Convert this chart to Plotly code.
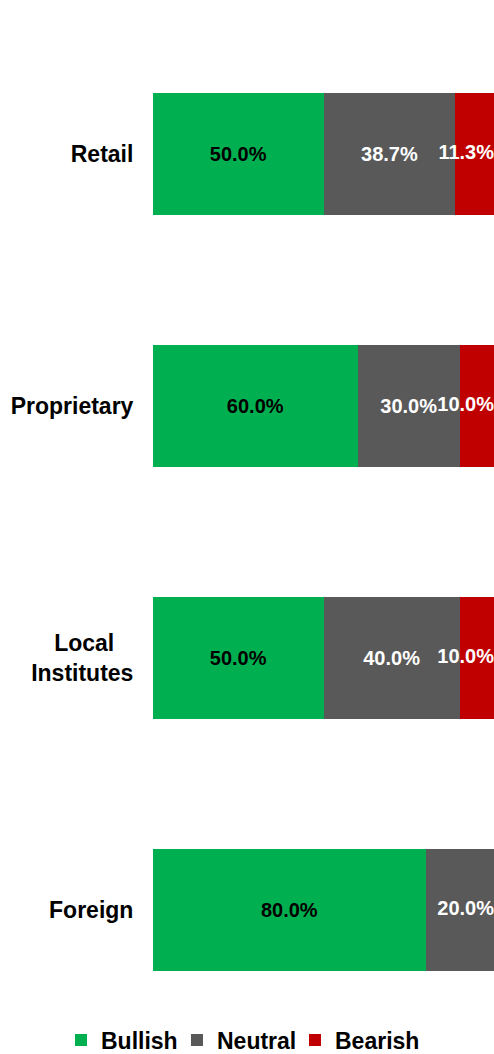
import plotly.graph_objects as go

categories = ["Retail", "Proprietary", "Local Institutes", "Foreign"]
tick_labels = ["Retail", "Proprietary", "Local\u00a0\u00a0\u00a0<br>Institutes", "Foreign"]
bullish = [50.0, 60.0, 50.0, 80.0]
neutral = [38.7, 30.0, 40.0, 20.0]
bearish = [11.3, 10.0, 10.0, 0.0]

FONT = "Liberation Sans, Arial, sans-serif"

series = [
    ("Bullish", bullish, "#00B050", "#000000", "legend"),
    ("Neutral", neutral, "#595959", "#FFFFFF", "legend2"),
    ("Bearish", bearish, "#C00000", "#FFFFFF", "legend3"),
]

# index of last non-zero segment per row (its label is drawn right-aligned at the bar end)
last_idx = []
for i in range(len(categories)):
    li = 0
    for k, (_, vals, _, _, _) in enumerate(series):
        if vals[i] > 0:
            li = k
    last_idx.append(li)

fig = go.Figure()
for k, (name, vals, color, tcolor, lg) in enumerate(series):
    texts = ["%{x:.1f}%" if (v > 0 and last_idx[i] != k) else "" for i, v in enumerate(vals)]
    fig.add_trace(go.Bar(
        y=categories, x=vals, name=name, orientation="h", legend=lg,
        marker=dict(color=color, line=dict(width=0)),
        texttemplate=texts, textposition="inside", insidetextanchor="middle",
        constraintext="none", textangle=0,
        insidetextfont=dict(family=FONT, size=20, color=tcolor, weight="bold"),
    ))

# labels of the last segment of each bar, anchored at the bar total
totals = [b + n + r for b, n, r in zip(bullish, neutral, bearish)]
end_labels = ["%.1f%%" % series[last_idx[i]][1][i] for i in range(len(categories))]
fig.add_trace(go.Scatter(
    y=categories, x=totals, mode="text", text=end_labels,
    textposition="middle left", showlegend=False, hoverinfo="skip", cliponaxis=False,
    textfont=dict(family=FONT, size=20, color="#FFFFFF", weight="bold"),
))

legfont = dict(family=FONT, size=23, weight="bold", color="#000000")
common = dict(orientation="h", xref="container", yref="container", xanchor="left",
              y=0.0133, yanchor="middle", font=legfont, itemwidth=30,
              bgcolor="rgba(0,0,0,0)")

fig.update_layout(
    barmode="stack", bargap=0.516,
    width=494, height=1054,
    margin=dict(l=153, r=0, t=28, b=18, autoexpand=False),
    paper_bgcolor="white", plot_bgcolor="white",
    font=dict(family=FONT, color="#000000"),
    showlegend=True,
    legend=dict(x=61 / 494, **common),
    legend2=dict(x=177 / 494, **common),
    legend3=dict(x=295 / 494, **common),
    xaxis=dict(range=[0, 100], visible=False, showgrid=False, zeroline=False),
    yaxis=dict(autorange="reversed", showgrid=False, zeroline=False, showline=False,
               tickmode="array", tickvals=categories, ticktext=tick_labels,
               ticks="outside", ticklen=14, tickcolor="rgba(0,0,0,0)",
               tickfont=dict(family=FONT, size=23, weight="bold", color="#000000")),
)

fig.write_html("out.html", config={"displayModeBar": False},
               post_script="document.body.style.margin='0';document.body.style.overflow='hidden';")
